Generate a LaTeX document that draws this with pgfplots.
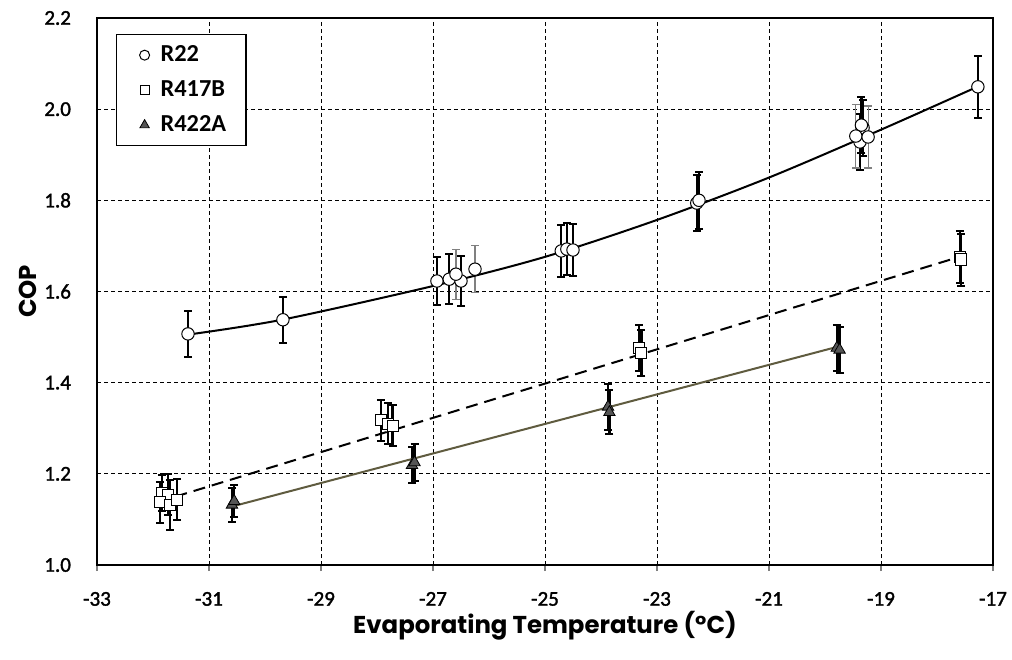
\documentclass[border=0pt]{standalone}
\usepackage{fontspec}
\setmainfont{Carlito}
\newfontfamily\gothic{Poppins}
\newfontfamily\tickfont[FakeBold=1.6]{Carlito}
\usepackage{pgfplots}
\usepackage{pgfplotstable}
\pgfplotsset{compat=1.18}

\definecolor{olivegray}{HTML}{5F5B3F}
\definecolor{trifill}{HTML}{555555}

\pgfplotsset{
    dotlegend/.style={legend image code/.code={%
        \path[draw=none] (0pt,0pt) rectangle (12pt,0.1pt);
        \draw[mark size=#1,##1] plot coordinates {(5pt,0pt)};}},
}

% x  y  e  (COP with error)
\pgfplotstableread{
x       y      e
-31.375 1.507  0.051
-29.68  1.538  0.050
-26.93  1.623  0.053
-26.71  1.627  0.055
-26.50  1.623  0.054
-24.71  1.689  0.057
-24.61  1.693  0.057
-24.50  1.691  0.057
-22.29  1.794  0.062
-22.25  1.800  0.062
-19.375 1.928  0.062
-19.32  1.959  0.062
-19.35  1.965  0.062
-17.27  2.049  0.068
}\rtwotwo
\pgfplotstableread{
x       y      e
-26.59  1.638  0.055
-26.25  1.649  0.052
-19.45  1.941  0.070
-19.23  1.939  0.068
}\rtwotwothin
\pgfplotstableread{
x       y      e
-31.84  1.158  0.040
-31.73  1.154  0.045
-31.875 1.138  0.045
-31.70  1.132  0.055
-31.57  1.143  0.045
-27.93  1.318  0.045
-27.80  1.310  0.045
-27.72  1.305  0.045
-23.32  1.476  0.050
-23.28  1.465  0.050
-17.59  1.676  0.057
-17.57  1.670  0.057
}\rfourone
\pgfplotstableread{
x       y      e
-30.59  1.132  0.038
-30.55  1.140  0.035
-27.375 1.219  0.040
-27.33  1.225  0.040
-23.875 1.347  0.050
-23.85  1.335  0.048
-19.79  1.476  0.050
-19.74  1.472  0.050
}\rfourtwo

\begin{document}
\begin{tikzpicture}
\begin{axis}[
    scale only axis,
    width=448pt, height=273.5pt,
    xmin=-33, xmax=-17, ymin=1, ymax=2.2,
    xtick={-33,-31,-29,-27,-25,-23,-21,-19,-17},
    xticklabels={-33,-31,-29,-27,-25,-23,-21,-19,-17},
    ytick={1,1.2,1.4,1.6,1.8,2.0,2.2},
    yticklabels={1.0,1.2,1.4,1.6,1.8,2.0,2.2},
    tick label style={font=\tickfont\fontsize{10.5}{12}\selectfont},
    xticklabel shift=7pt,
    yticklabel shift=6.5pt,
    x tick style={draw=gray, line width=0.6pt},
    xtick pos=bottom, ytick pos=left,
    tick align=outside,
    major tick length=3pt,
    y tick style={draw=none},
    grid=major,
    grid style={black, dash pattern=on 2pt off 1.5pt, line width=0.5pt},
    axis line style={black, line width=1pt},
    xlabel={Evaporating Temperature (°C)},
    ylabel={COP},
    label style={font=\gothic\bfseries\fontsize{12.2}{14}\selectfont},
    xlabel style={yshift=4pt},
    ylabel style={yshift=-3pt},
    legend style={at={(0.021,0.971)}, anchor=north west, draw=black,
        line width=0.8pt, inner xsep=9pt, inner ysep=4.5pt,
        font=\bfseries\fontsize{12.2}{14}\selectfont,
        row sep=6pt, nodes={inner sep=1pt}},
    legend cell align=left,
    error bars/y dir=both,
    error bars/y explicit,
]
% R22
\addplot[only marks, mark=*, mark size=3.1pt,
    mark options={fill=white, draw=black, line width=0.5pt},
    error bars/error bar style={black, line width=1.2pt},
    error bars/error mark options={rotate=90, mark size=2pt, line width=1pt, black},
    dotlegend=2.5pt]
    table[x=x, y=y, y error=e] {\rtwotwo};
\addlegendentry{R22}
% R417B
\addplot[only marks, mark=square*, mark size=2.8pt,
    mark options={fill=white, draw=black, line width=0.5pt},
    error bars/error bar style={black, line width=1.2pt},
    error bars/error mark options={rotate=90, mark size=2pt, line width=1pt, black},
    dotlegend=2.3pt]
    table[x=x, y=y, y error=e] {\rfourone};
\addlegendentry{R417B}
% R422A
\addplot[only marks, mark=triangle*, mark size=3.3pt,
    mark options={fill=trifill, draw=black, line width=0.4pt},
    error bars/error bar style={black, line width=1.2pt},
    error bars/error mark options={rotate=90, mark size=2pt, line width=1pt, black},
    dotlegend=2.7pt]
    table[x=x, y=y, y error=e] {\rfourtwo};
\addlegendentry{R422A}
% thin grey error bars
\addplot[only marks, mark=*, mark size=3.1pt, forget plot,
    mark options={fill=white, draw=black, line width=0.5pt},
    error bars/error bar style={gray, line width=0.6pt},
    error bars/error mark options={rotate=90, mark size=2pt, line width=0.6pt, gray}]
    table[x=x, y=y, y error=e] {\rtwotwothin};
% trend lines
\addplot[black, line width=1pt, smooth, forget plot, no marks] coordinates {
    (-31.4,1.505) (-29.7,1.538) (-27,1.612) (-25,1.676) (-23,1.757)
    (-21,1.850) (-19,1.955) (-17.3,2.048)
};
\addplot[black, line width=1pt, dash pattern=on 6pt off 3.5pt, forget plot, no marks] coordinates {
    (-31.6,1.150) (-17.6,1.676)
};
\addplot[olivegray, line width=1pt, forget plot, no marks] coordinates {
    (-30.6,1.128) (-19.8,1.478)
};
\end{axis}
\pgfresetboundingbox
\path[use as bounding box] ([shift={(-48.5pt,-47pt)}]current axis.south west)
    rectangle ([shift={(9.5pt,9pt)}]current axis.north east);
\end{tikzpicture}
\end{document}
